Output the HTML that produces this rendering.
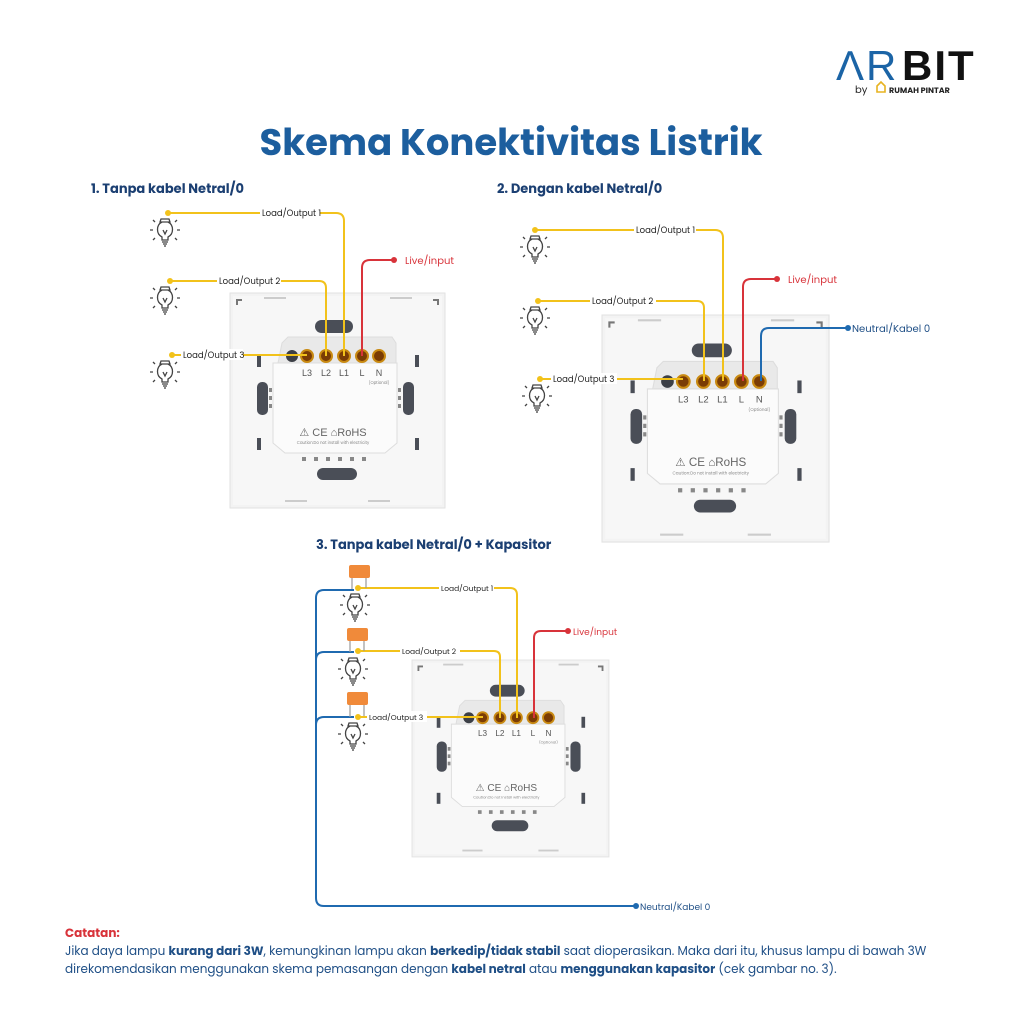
<!DOCTYPE html>
<html><head><meta charset="utf-8"><style>
html,body{margin:0;padding:0;background:#fff;}
svg{display:block;font-family:"Poppins","Liberation Sans",sans-serif;}
</style></head><body>
<svg width="1024" height="1024" viewBox="0 0 1024 1024" xmlns="http://www.w3.org/2000/svg">
<defs>
<g id="bulb" fill="none" stroke="#444" stroke-width="1.3">
  <path d="M-4,-6 L4,-6 L5,-3 L-5,-3 Z" fill="#fff"/>
  <path d="M-3,-3 C-9,0 -9,9 -3,12 L-3,15 L3,15 L3,12 C9,9 9,0 3,-3"/>
  <path d="M-3,17 L3,17 M-2,19 L2,19"/>
  <path d="M-12,5 L-15,5 M12,5 L15,5 M-10,-3 L-12,-5 M10,-3 L12,-5 M-10,13 L-12,15 M10,13 L12,15 M0,20 L0,22"/>
  <path d="M-2,5 L0,9 L2,5"/>
</g>
<g id="panel">
  <rect x="0" y="0" width="215" height="215" fill="#f3f3f3" stroke="#e2e2e2"/>
  <rect x="3" y="3" width="209" height="209" fill="#f7f7f7"/>
  <path d="M7,12 L7,7 L12,7" stroke="#777" stroke-width="2" fill="none"/>
  <path d="M208,12 L208,7 L203,7" stroke="#777" stroke-width="2" fill="none"/>
  <rect x="34" y="4" width="22" height="2" fill="#ccc"/><rect x="160" y="4" width="22" height="2" fill="#ccc"/>
  <rect x="55" y="207" width="22" height="2" fill="#ccc"/><rect x="138" y="207" width="22" height="2" fill="#ccc"/>
  <rect x="85" y="27" width="38" height="13" rx="6.5" fill="#4a4e57"/>
  <path d="M52,50 L58,44 L162,44 L166,50 L166,70 L48,70 Z" fill="#e9e9e9" stroke="#ddd"/>
  <path d="M43,70 L167,70 L167,150 L155,160 L55,160 L43,150 Z" fill="#fbfbfb" stroke="#ddd"/>
  <circle cx="62" cy="63" r="6" fill="#3c3f46"/>
  <g fill="#7a3c05" stroke="#c98a12" stroke-width="2">
    <circle cx="77" cy="63" r="6"/><circle cx="96" cy="63" r="6"/><circle cx="114" cy="63" r="6"/><circle cx="132" cy="63" r="6"/><circle cx="149" cy="63" r="6"/>
  </g>
  <g font-size="9" fill="#555" text-anchor="middle" font-family="Liberation Sans,sans-serif">
    <text x="77" y="83">L3</text><text x="96" y="83">L2</text><text x="114" y="83">L1</text><text x="132" y="83">L</text><text x="149" y="83">N</text>
  </g>
  <text x="149" y="91" font-size="4" fill="#888" text-anchor="middle">(Optional)</text>
  <text x="103" y="143" font-size="11" fill="#666" text-anchor="middle" font-family="Liberation Sans,sans-serif">⚠  CE ⌂RoHS</text>
  <text x="103" y="151" font-size="4" fill="#888" text-anchor="middle">Caution:Do not install with electricity</text>
  <rect x="27" y="89" width="11" height="33" rx="5" fill="#4a4e57"/>
  <rect x="173" y="89" width="11" height="33" rx="5" fill="#4a4e57"/>
  <rect x="27" y="62" width="4" height="12" fill="#4a4e57"/><rect x="27" y="145" width="4" height="12" fill="#4a4e57"/>
  <rect x="185" y="62" width="4" height="12" fill="#4a4e57"/><rect x="185" y="145" width="4" height="12" fill="#4a4e57"/>
  <g fill="#888"><rect x="39" y="95" width="3" height="4"/><rect x="39" y="103" width="3" height="4"/><rect x="39" y="111" width="3" height="4"/>
  <rect x="168" y="95" width="3" height="4"/><rect x="168" y="103" width="3" height="4"/><rect x="168" y="111" width="3" height="4"/>
  <rect x="72" y="164" width="4" height="4"/><rect x="84" y="164" width="4" height="4"/><rect x="96" y="164" width="4" height="4"/><rect x="108" y="164" width="4" height="4"/><rect x="120" y="164" width="4" height="4"/><rect x="132" y="164" width="4" height="4"/></g>
  <rect x="87" y="175" width="40" height="12" rx="6" fill="#4a4e57"/>
</g>
</defs>

<!-- logo -->
<text x="836" y="80" font-size="42" fill="#1b64a6" font-family="Liberation Sans,sans-serif" letter-spacing="2">ΛR</text>
<text x="902" y="80" font-size="42" fill="#111" font-family="Liberation Sans,sans-serif" font-weight="bold" letter-spacing="2">BIT</text>
<text x="855" y="93" font-size="10" fill="#222">by</text>
<path d="M877,92 L877,86 L881,82 L885,86 L885,92 Z" fill="none" stroke="#e7b321" stroke-width="1.6"/>
<text x="889" y="93" font-size="8" font-weight="bold" fill="#222">RUMAH PINTAR</text>

<text x="511" y="155" font-size="37" font-weight="bold" fill="#1c5e9e" text-anchor="middle">Skema Konektivitas Listrik</text>
<g font-size="13" font-weight="bold" fill="#1b3f72">
<text x="91" y="193">1.  Tanpa kabel Netral/0</text>
<text x="497" y="193">2. Dengan kabel Netral/0</text>
<text x="316" y="549">3. Tanpa kabel Netral/0 + Kapasitor</text>
</g>

<!-- panels -->
<use href="#panel" transform="translate(230,293)"/>
<use href="#panel" transform="translate(602,315) scale(1.056)"/>
<use href="#panel" transform="translate(412,660) scale(0.916)"/>

<g fill="none" stroke-width="2" stroke-linejoin="round">
<!-- panel 1 -->
<path d="M168,213 H336 Q344,213 344,221 V356" stroke="#f2c21b"/>
<path d="M170,281 H319 Q326,281 326,288 V356" stroke="#f2c21b"/>
<path d="M172,355 H307" stroke="#f2c21b"/>
<path d="M394,260 H370 Q362,260 362,268 V356" stroke="#d8333a"/>
<!-- panel 2 -->
<path d="M535,230 H715 Q723,230 723,238 V381" stroke="#f2c21b"/>
<path d="M538,301 H697 Q704,301 704,308 V381" stroke="#f2c21b"/>
<path d="M540,379 H683" stroke="#f2c21b"/>
<path d="M777,279 H751 Q743,279 743,287 V381" stroke="#d8333a"/>
<path d="M848,328 H769 Q761,328 761,336 V381" stroke="#1f6ab0"/>
<!-- panel 3 -->
<path d="M358,588 H510 Q517,588 517,595 V718" stroke="#f2c21b"/>
<path d="M358,651 H494 Q500,651 500,657 V718" stroke="#f2c21b"/>
<path d="M358,717 H483" stroke="#f2c21b"/>
<path d="M568,631 H541 Q534,631 534,638 V718" stroke="#d8333a"/>
<path d="M636,906 H324 Q316,906 316,898 V598 Q316,590 324,590 H354" stroke="#1f6ab0"/>
<path d="M316,660 Q316,652 324,652 H354" stroke="#1f6ab0"/>
<path d="M316,725 Q316,717 324,717 H354" stroke="#1f6ab0"/>
<path d="M352,577 V589 M366,577 V588 M350,640 V652 M364,640 V651 M350,705 V717 M364,705 V716" stroke="#999" stroke-width="1.2"/>
</g>
<g fill="#f08a3a">
<rect x="349" y="565" width="21" height="13" rx="2"/>
<rect x="347" y="628" width="21" height="13" rx="2"/>
<rect x="347" y="692" width="21" height="13" rx="2"/>
</g>
<g fill="#f2c21b">
<circle cx="168" cy="213" r="3"/><circle cx="170" cy="281" r="3"/><circle cx="172" cy="355" r="3"/>
<circle cx="535" cy="230" r="3"/><circle cx="538" cy="301" r="3"/><circle cx="540" cy="379" r="3"/>
<circle cx="358" cy="588" r="3"/><circle cx="358" cy="651" r="3"/><circle cx="358" cy="717" r="3"/>
</g>
<g fill="#d8333a"><circle cx="394" cy="260" r="3"/><circle cx="777" cy="279" r="3"/><circle cx="568" cy="631" r="3"/></g>
<g fill="#1f6ab0"><circle cx="848" cy="328" r="3"/><circle cx="636" cy="906" r="3"/></g>

<!-- bulbs -->
<use href="#bulb" transform="translate(165,225)"/>
<use href="#bulb" transform="translate(165,293)"/>
<use href="#bulb" transform="translate(165,367)"/>
<use href="#bulb" transform="translate(535,242)"/>
<use href="#bulb" transform="translate(535,313)"/>
<use href="#bulb" transform="translate(537,391)"/>
<use href="#bulb" transform="translate(355,600)"/>
<use href="#bulb" transform="translate(353,664)"/>
<use href="#bulb" transform="translate(353,729)"/>

<!-- wire labels -->
<g font-size="8.5" fill="#222">
<rect x="260" y="207" width="60" height="11" fill="#fff"/><text x="262" y="216">Load/Output 1</text>
<rect x="217" y="275" width="64" height="11" fill="#fff"/><text x="219" y="284">Load/Output 2</text>
<rect x="181" y="349" width="62" height="11" fill="#fff"/><text x="183" y="358">Load/Output 3</text>
<rect x="634" y="224" width="62" height="11" fill="#fff"/><text x="636" y="233">Load/Output 1</text>
<rect x="590" y="295" width="66" height="11" fill="#fff"/><text x="592" y="304">Load/Output 2</text>
<rect x="551" y="373" width="66" height="11" fill="#fff"/><text x="553" y="382">Load/Output 3</text>
<rect x="439" y="582" width="55" height="11" fill="#fff"/><text x="441" y="591" font-size="7.5">Load/Output 1</text>
<rect x="400" y="645" width="60" height="11" fill="#fff"/><text x="402" y="654" font-size="7.5">Load/Output 2</text>
<rect x="367" y="711" width="60" height="11" fill="#fff"/><text x="369" y="720" font-size="7.5">Load/Output 3</text>
</g>
<g font-size="10" fill="#d8333a">
<text x="405" y="264">Live/input</text><text x="788" y="283">Live/input</text><text x="573" y="635" font-size="9">Live/input</text>
</g>
<g fill="#1f4f86"><text x="852" y="332" font-size="10">Neutral/Kabel 0</text><text x="640" y="910" font-size="9">Neutral/Kabel 0</text></g>

<!-- notes -->
<text x="65" y="937" font-size="12" font-weight="bold" fill="#d8333a">Catatan:</text>
<text x="65" y="955" font-size="12" fill="#1f4f86">Jika daya lampu <tspan font-weight="bold">kurang dari 3W</tspan>, kemungkinan lampu akan <tspan font-weight="bold">berkedip/tidak stabil</tspan> saat dioperasikan. Maka dari itu, khusus lampu di bawah 3W</text>
<text x="65" y="973" font-size="12" fill="#1f4f86">direkomendasikan menggunakan skema pemasangan dengan <tspan font-weight="bold">kabel netral</tspan> atau <tspan font-weight="bold">menggunakan kapasitor</tspan> (cek gambar no. 3).</text>
</svg>
</body></html>
